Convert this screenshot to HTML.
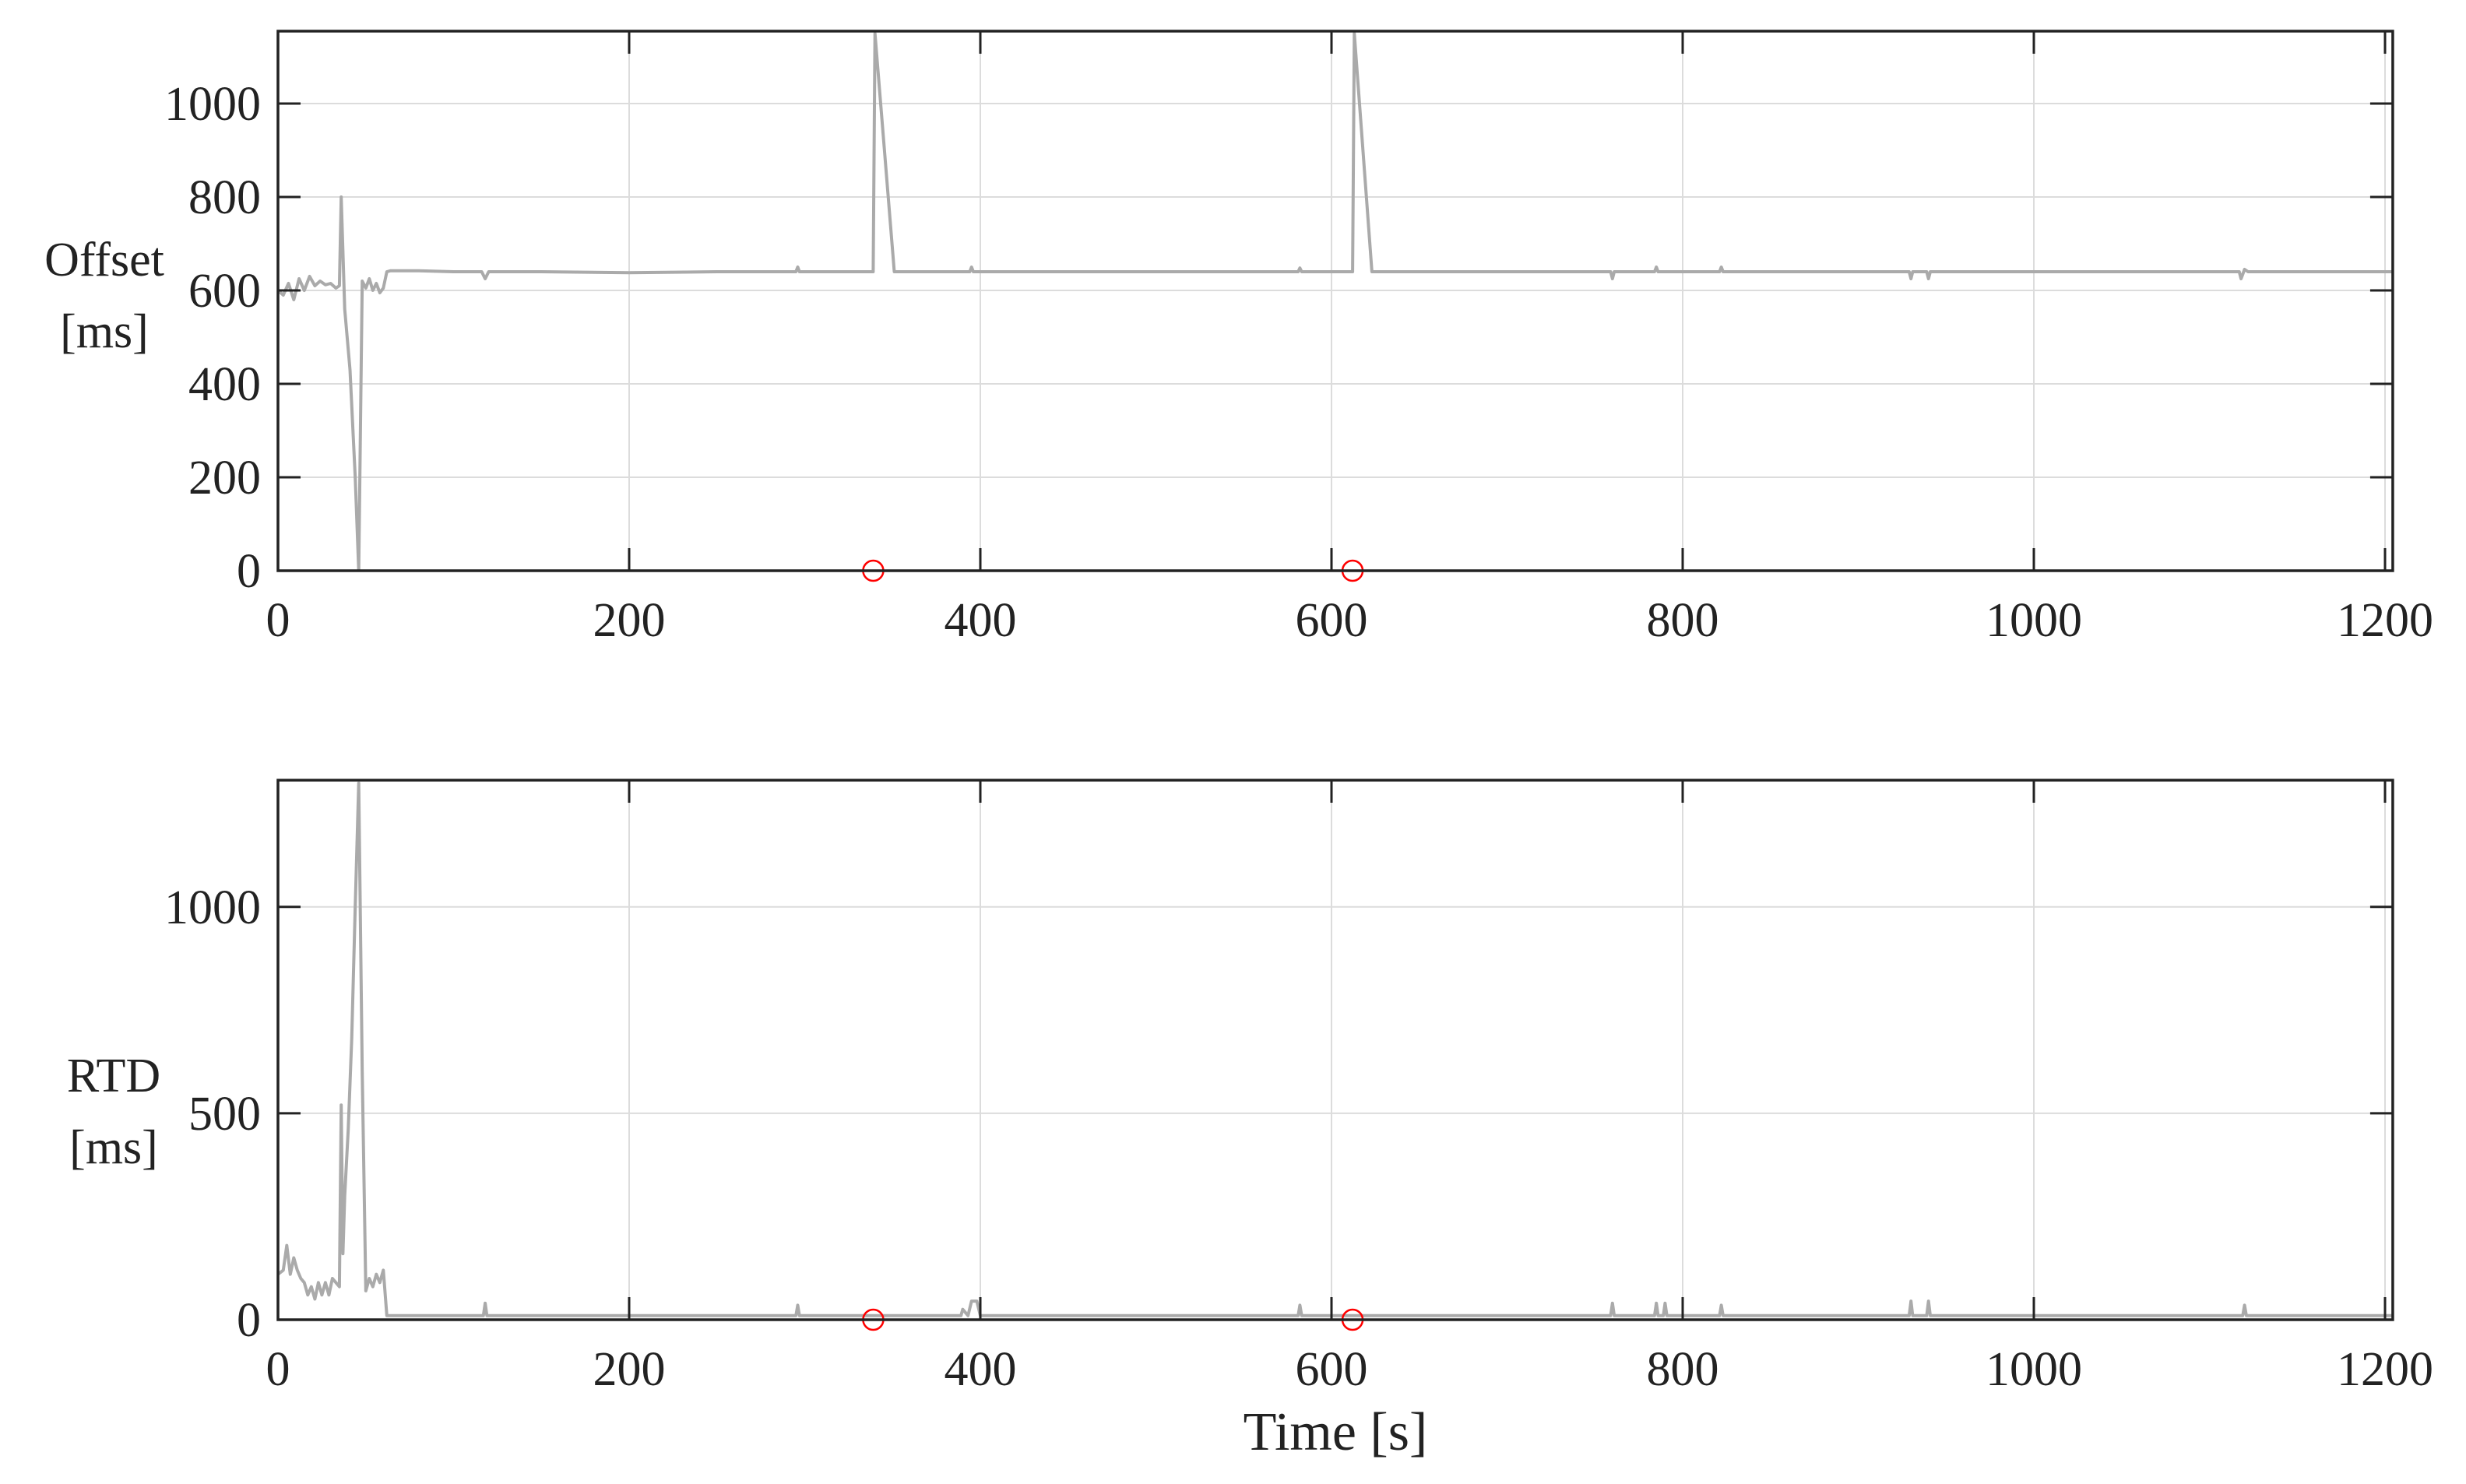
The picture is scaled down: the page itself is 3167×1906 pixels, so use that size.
<!DOCTYPE html>
<html><head><meta charset="utf-8"><style>
html,body{margin:0;padding:0;background:#fff}
svg text{font-family:"Liberation Serif",serif;fill:#222}
</style></head><body>
<svg id="chart" width="3167" height="1901" viewBox="0 0 3167 1901" xmlns="http://www.w3.org/2000/svg"></svg>
<script>
const offsetT = [0,3,6,9,12,15,18,21,24,27,30,33,35,36,38,41,44,46,48,50,52,54,56,58,60,62,64,80,100,116,118,120,150,200,250,295,296,297,338,339,340,351,352,380,394,395,396,450,500,550,581,582,583,611,612,613,623,624,650,700,759,760,761,784,785,786,821,822,823,860,929,930,931,939,940,941,1000,1050,1100,1117,1118,1120,1122,1123,1150,1190,1204];
const offsetV = [600,590,615,580,625,600,630,610,620,612,615,605,610,800,560,430,200,0,620,605,625,600,615,595,605,640,642,642,640,640,625,640,640,638,640,640,650,640,640,640,1150,640,640,640,640,650,640,640,640,640,640,648,640,640,640,1150,640,640,640,640,640,625,640,640,650,640,640,650,640,640,640,625,640,640,625,640,640,640,640,640,625,645,640,640,640,640,640];
const rtdT = [0,3,5,7,9,11,13,15,17,19,21,23,25,27,29,31,33,35,36,37,38,40,42,44,46,48,50,52,54,56,58,60,62,64,100,117,118,119,200,295,296,297,389,390,393,395,398,400,500,581,582,583,600,650,759,760,761,784,785,786,789,790,791,821,822,823,860,929,930,931,939,940,941,1000,1100,1119,1120,1121,1204];
const rtdV = [110,120,180,110,150,120,100,90,60,80,50,90,60,90,60,100,90,80,520,160,300,460,680,1000,1300,600,70,100,80,110,90,120,10,10,10,10,40,10,10,10,35,10,10,25,10,45,45,10,10,10,35,10,10,10,10,40,10,10,40,10,10,40,10,10,35,10,10,10,45,10,10,45,10,10,10,10,35,10,10];
const xTicks = [0,200,400,600,800,1000,1200];
const offsetTicks = [0,200,400,600,800,1000];
const rtdTicks = [0,500,1000];
const markerT = [339,612];

const NS='http://www.w3.org/2000/svg';
const svg=document.getElementById('chart');
function mk(tag,attrs,parent){const e=document.createElementNS(NS,tag);for(const k in attrs)e.setAttribute(k,attrs[k]);(parent||svg).appendChild(e);return e;}
const X0=357, XPX=2.255, XMAX=1204.4;
function xs(t){return X0+t*XPX;}
const XR=xs(XMAX);

function panel(name,top,bottom,ymax,ticks,T,V,label,labelX,labelY){
  const g=mk('g',{});
  
  
  const ys=v=>bottom-(v/ymax)*(bottom-top);
  xTicks.forEach(t=>{const l=mk('line',{x1:xs(t),x2:xs(t),y1:top,y2:bottom,stroke:'#dcdcdc','stroke-width':2},g);});
  ticks.forEach(v=>{const l=mk('line',{x1:X0,x2:XR,y1:ys(v),y2:ys(v),stroke:'#dcdcdc','stroke-width':2},g);});
  const cid='clip-'+name;
  const cp=mk('clipPath',{id:cid},g);mk('rect',{x:X0,y:top,width:XR-X0,height:bottom-top},cp);
  const pts=T.map((t,i)=>xs(t).toFixed(1)+','+ys(V[i]).toFixed(1)).join(' ');
  const pl=mk('polyline',{points:pts,fill:'none',stroke:'#aaaaaa','stroke-width':4,'stroke-linejoin':'round','clip-path':'url(#'+cid+')'},g);
  
  
  markerT.forEach(t=>{const c=mk('circle',{cx:xs(t),cy:bottom,r:13,fill:'none',stroke:'#ff0000','stroke-width':2.5},g);});
  const b=mk('rect',{x:X0,y:top,width:XR-X0,height:bottom-top,fill:'none',stroke:'#222','stroke-width':3.5},g);
  
  xTicks.forEach(t=>{
    mk('line',{x1:xs(t),x2:xs(t),y1:bottom,y2:bottom-29,stroke:'#222','stroke-width':3},g);
    mk('line',{x1:xs(t),x2:xs(t),y1:top,y2:top+29,stroke:'#222','stroke-width':3},g);
    const tx=mk('text',{x:xs(t),y:bottom+84,'font-size':62,'text-anchor':'middle'},g);tx.textContent=t;
    
  });
  ticks.forEach(v=>{
    mk('line',{x1:X0,x2:X0+29,y1:ys(v),y2:ys(v),stroke:'#222','stroke-width':3},g);
    mk('line',{x1:XR,x2:XR-29,y1:ys(v),y2:ys(v),stroke:'#222','stroke-width':3},g);
    const tx=mk('text',{x:X0-22,y:ys(v)+21,'font-size':62,'text-anchor':'end'},g);tx.textContent=v;
    
  });
  const l1=mk('text',{x:labelX,y:labelY,'font-size':62,'text-anchor':'middle'},g);l1.textContent=label;
  
  const l2=mk('text',{x:labelX,y:labelY+92,'font-size':62,'text-anchor':'middle'},g);l2.textContent='[ms]';
  
}
panel('offset',40,733,1155,offsetTicks,offsetT,offsetV,'Offset',134,354);
panel('rtd',1002,1695,1307,rtdTicks,rtdT,rtdV,'RTD',146,1402);
const xl=mk('text',{x:(X0+XR)/2,y:1862,'font-size':70,'text-anchor':'middle'});
xl.textContent='Time [s]';


</script>
</body></html>
